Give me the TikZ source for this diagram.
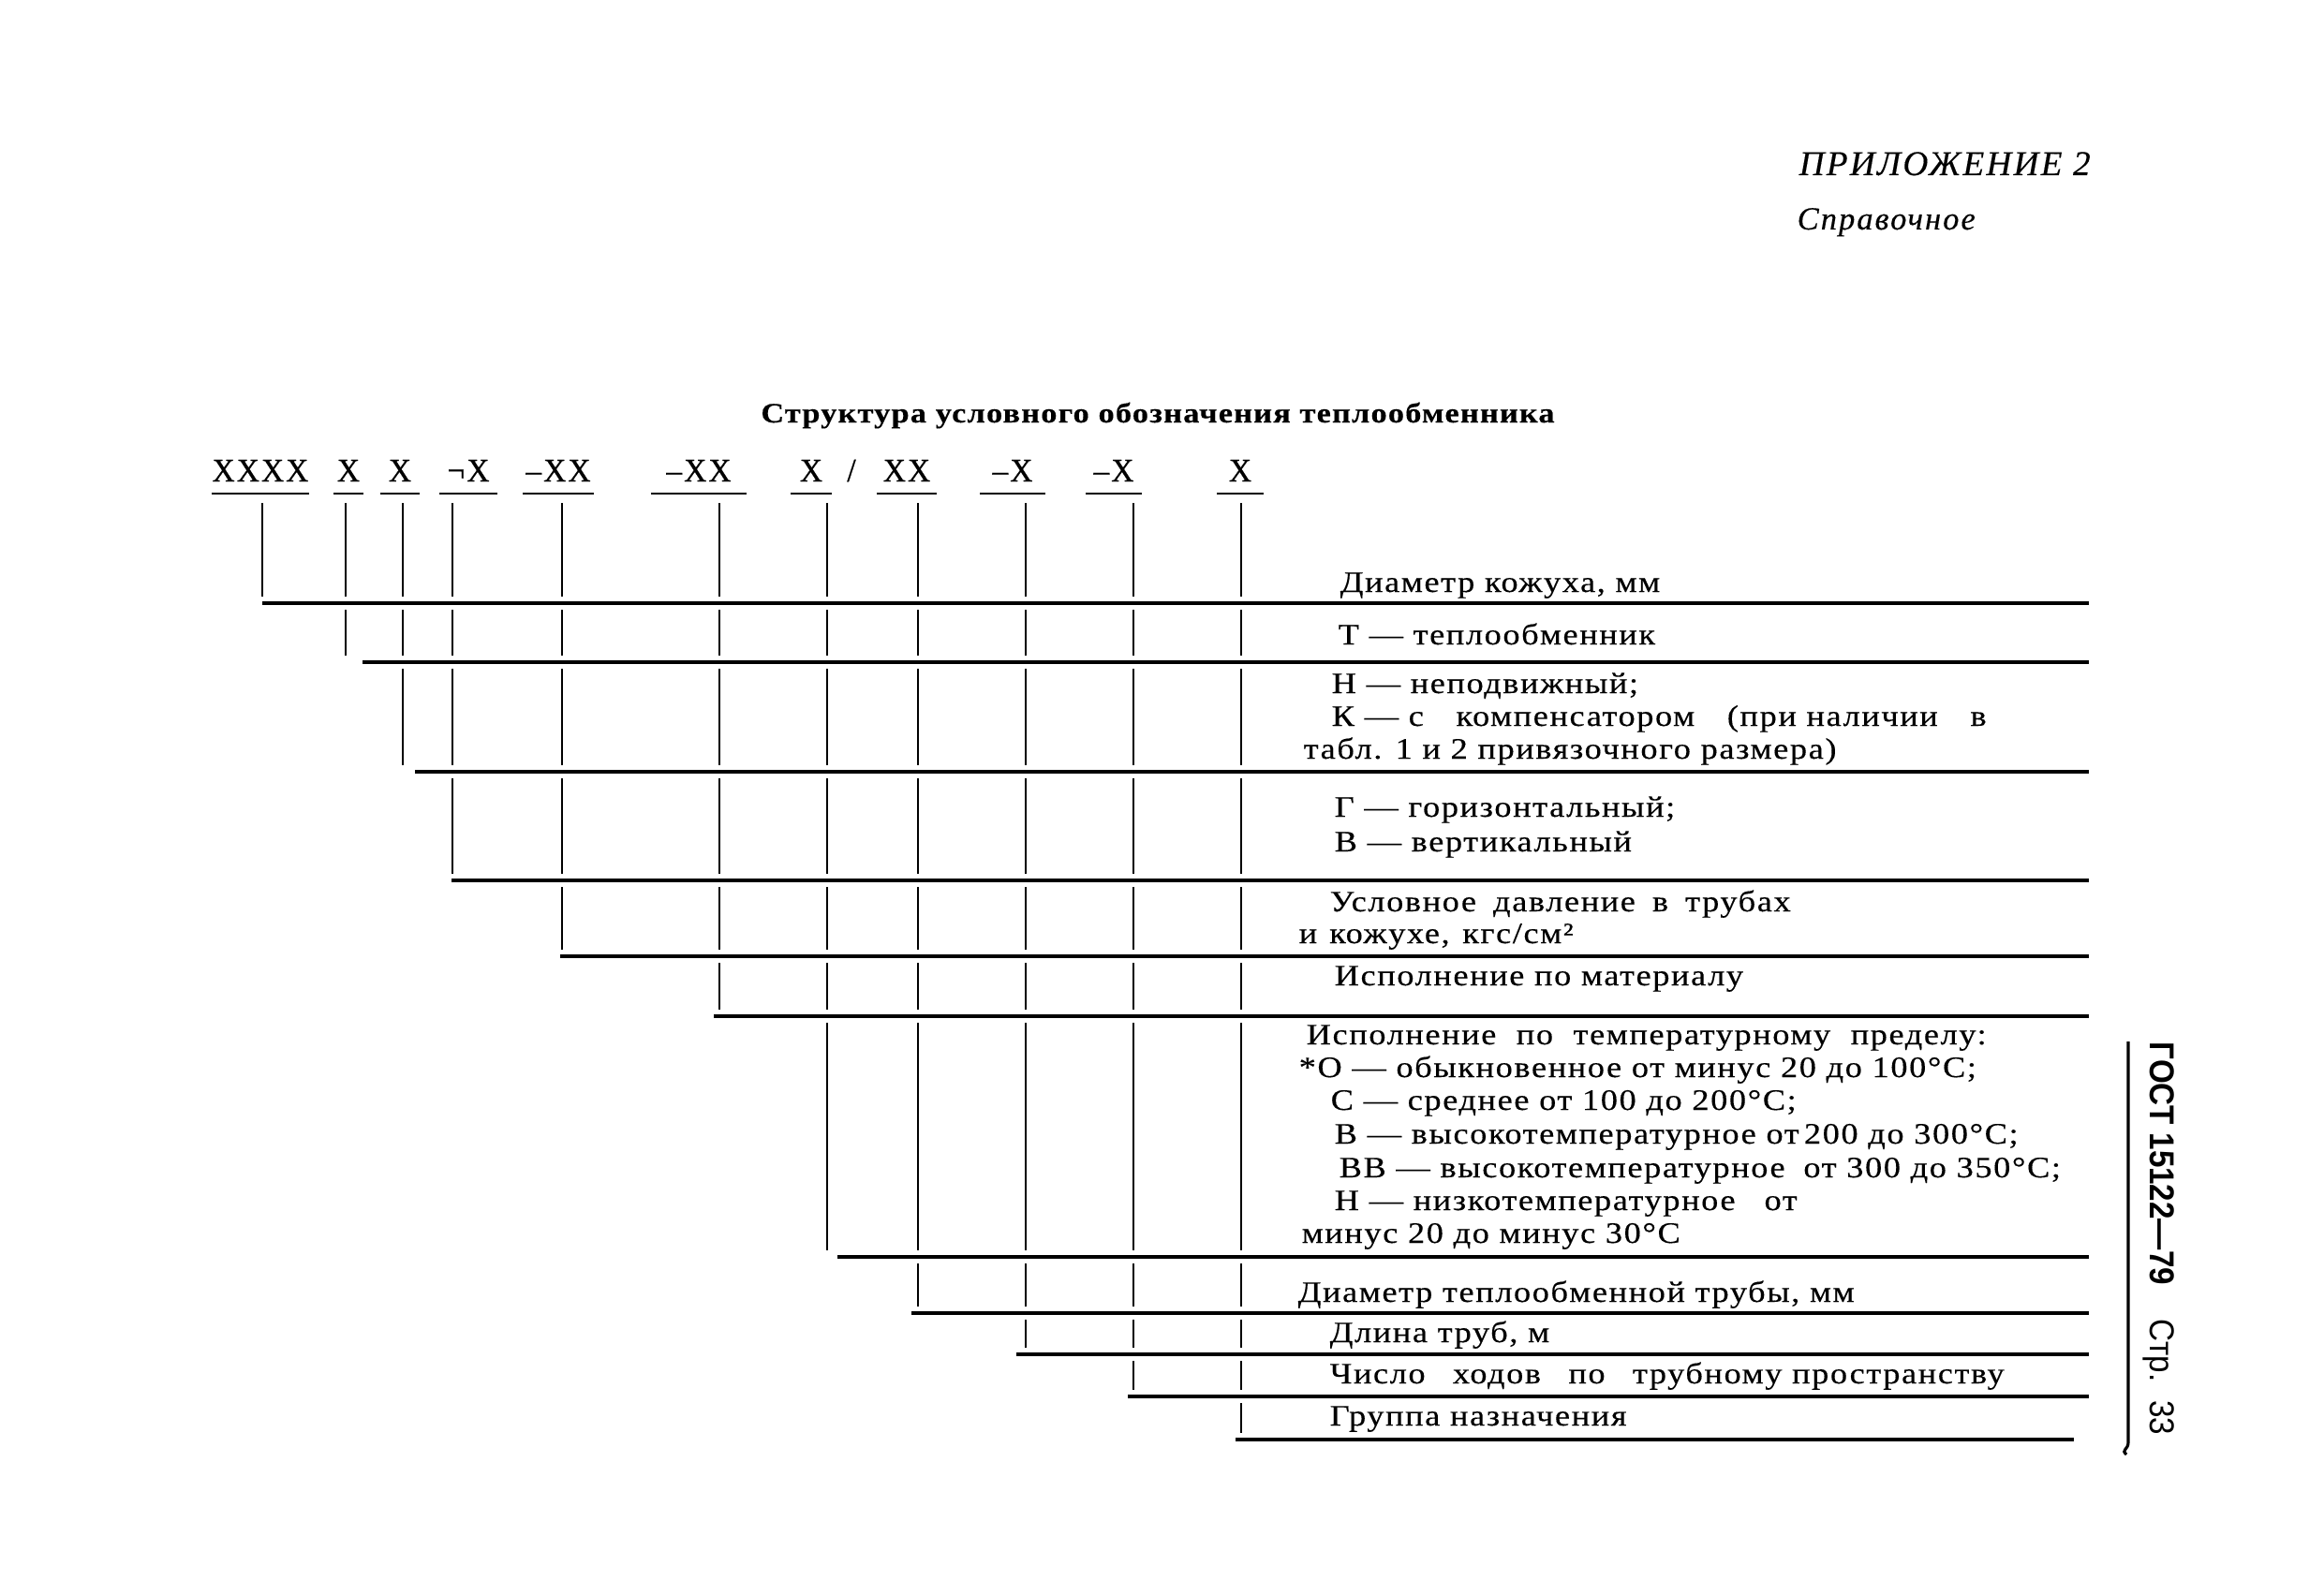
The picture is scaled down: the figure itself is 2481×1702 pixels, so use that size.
\documentclass[tikz,border=0pt]{standalone}
\usepackage{fontspec}
\setmainfont{Liberation Serif}[FakeStretch=1.15,LetterSpace=5,FakeBold=0.3]
\setsansfont{Liberation Sans}
\newfontfamily\headfont{Liberation Serif}[LetterSpace=6,FakeBold=0.3]
\newfontfamily\codefont{Liberation Serif}[FakeStretch=0.95,LetterSpace=6,FakeBold=0.6]
\begin{document}
\begin{tikzpicture}[x=0.1mm,y=-0.1mm,
  lbl/.style={anchor=base west,inner sep=0pt,font=\fontsize{9}{11}\selectfont},
  cbox/.style={anchor=base,inner sep=0pt,text depth=0pt,font=\codefont\fontsize{10}{12}\selectfont},
  uline/.style={line width=0.6pt},
  stem/.style={line width=0.6pt},
  hrule/.style={line width=1pt}]
\useasboundingbox (0,0) rectangle (2481,1702);
% heading
\node[anchor=base west,inner sep=0pt,font=\headfont\itshape\fontsize{10.6}{12}\selectfont] (app) at (1920,187) {ПРИЛОЖЕНИЕ 2};
\node[anchor=base west,inner sep=0pt,font=\headfont\itshape\fontsize{9.8}{11}\selectfont] (refn) at (1918,245) {Справочное};
\node[anchor=base,inner sep=0pt,font=\bfseries\addfontfeature{LetterSpace=4}\fontsize{8.5}{10}\selectfont] (title) at (1236,451) {Структура условного обозначения теплообменника};
% code row
\node[cbox,minimum width=10.3mm] (c1) at (278,514) {XXXX};
\node[cbox,minimum width=3.1mm] (c2) at (372,514) {X};
\node[cbox,minimum width=4mm] (c3) at (427,514) {X};
\node[cbox,minimum width=6mm] (c4) at (500,514) {¬X};
\node[cbox,minimum width=7.5mm] (c5) at (596,514) {–XX};
\node[cbox,minimum width=10.1mm] (c6) at (746,514) {–XX};
\node[cbox,minimum width=4.3mm] (c7) at (866,514) {X};
\node[cbox] (sl) at (909,514) {/};
\node[cbox,minimum width=6.3mm] (c8) at (968,514) {XX};
\node[cbox,minimum width=6.8mm] (c9) at (1081,514) {–X};
\node[cbox,minimum width=5.8mm] (c10) at (1189,514) {–X};
\node[cbox,minimum width=4.8mm] (c11) at (1324,514) {X};
\foreach \n in {1,...,11}
  \draw[uline] ([yshift=-1.3mm]c\n.base west) -- ([yshift=-1.3mm]c\n.base east);
% stems and rules
\foreach \i/\x in {1/280,2/369,3/430,4/483,5/600,6/768,7/883,8/980,9/1095,10/1210,11/1325}
  \coordinate (v\i) at (\x,537);
\foreach \i/\x/\y in {1/280/644,2/387/707,3/443/824,4/482/940,5/598/1021,6/762/1085,
    7/894/1342,8/973/1402,9/1085/1446,10/1204/1491,11/1319/1537}
  \coordinate (r\i) at (\x,\y);
\coordinate (rend) at (2230,0);
\coordinate (rend2) at (2214,0);
\foreach \i in {1,...,11}
  \draw[stem] (v\i) -- ([yshift=0.7mm]v\i |- r1);
\foreach \i in {2,...,11}{
  \pgfmathtruncatemacro\last{\i-1}
  \foreach \j in {1,...,\last}{
    \pgfmathtruncatemacro\k{\j+1}
    \draw[stem] ([yshift=-0.7mm]v\i |- r\j) -- ([yshift=0.7mm]v\i |- r\k);
  }
}
\foreach \i in {1,...,10}
  \draw[hrule] (r\i) -- (r\i -| rend);
\draw[hrule] (r11) -- (r11 -| rend2);
% explanations
\node[lbl] (l1) at (1430,632) {Диаметр кожуха, мм};
\node[lbl] (l2) at (1428,688) {Т — теплообменник};
\node[lbl] (l3a) at (1421,740) {Н — неподвижный;};
\node[lbl] (l3b) at (1421,775) {\makebox[69.9mm][s]{\mbox{К — с} компенсатором \mbox{(при наличии} в}};
\node[lbl] (l3c) at (1391,810) {табл. 1 и 2 привязочного размера)};
\node[lbl] (l4a) at (1424,872) {Г — горизонтальный;};
\node[lbl] (l4b) at (1424,909) {В — вертикальный};
\node[lbl] (l5a) at (1419,973) {\makebox[49.2mm][s]{Условное давление в трубах}};
\node[lbl] (l5b) at (1386,1007) {\makebox[29.3mm][s]{и кожухе, кгс/см²}};
\node[lbl] (l6) at (1424,1052) {Исполнение по материалу};
\node[lbl] (l7a) at (1394,1115) {\makebox[72.6mm][s]{Исполнение по температурному пределу:}};
\node[lbl] (l7b) at (1386,1150) {*О — обыкновенное от минус 20 до 100°С;};
\node[lbl] (l7c) at (1420,1185) {С — среднее от 100 до 200°С;};
\node[lbl] (l7d) at (1424,1221) {В — высокотемпературное от\,200 до 300°С;};
\node[lbl] (l7e) at (1429,1257) {\makebox[76.7mm][s]{\mbox{ВВ — высокотемпературное}\hspace{0.4em} \mbox{от 300 до 350°С;}}};
\node[lbl] (l7f) at (1424,1292) {\makebox[49.4mm][s]{\mbox{Н — низкотемпературное} от}};
\node[lbl] (l7g) at (1389,1327) {минус 20 до минус 30°С};
\node[lbl] (l8) at (1385,1390) {Диаметр теплообменной трубы, мм};
\node[lbl] (l9) at (1419,1433) {Длина труб, м};
\node[lbl] (l10) at (1419,1477) {\makebox[72mm][s]{Число ходов по \mbox{трубному пространству}}};
\node[lbl] (l11) at (1419,1522) {Группа назначения};
% margin
\coordinate (m1) at (2272,1112);
\coordinate (m2) at (2272,1540);
\coordinate (m3) at (2270,1553);
\draw[line width=0.9pt] (m1) -- (m2) .. controls (2272,1548) and (2264,1548) .. (m3);
\node[rotate=-90,anchor=base west,inner sep=0pt,font=\sffamily\fontsize{10.5}{12}\selectfont] (gost) at (2295,1112)
  {\scalebox{0.9}[1]{\bfseries ГОСТ 15122—79\hspace{1.1em}\mdseries Стр.\hspace{0.6em}33}};
\end{tikzpicture}
\end{document}
